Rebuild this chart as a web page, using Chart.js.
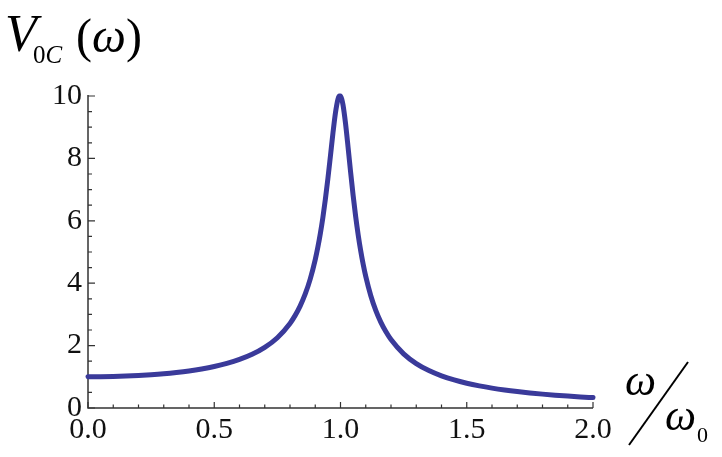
<!DOCTYPE html>
<html>
<head>
<meta charset="utf-8">
<script src="https://cdn.jsdelivr.net/npm/chart.js@4"></script>
<style>
  html, body { margin: 0; padding: 0; background: #fff; }
  #wrap { position: relative; width: 722px; height: 457px; overflow: hidden; }
  canvas { position: absolute; left: 0; top: 0; }
  .t { position: absolute; font-family: 'Liberation Serif', serif; line-height: 1; color: #000; white-space: nowrap; }
  .i { font-style: italic; }
</style>
</head>
<body>
<div id="wrap">
  <canvas id="c" width="722" height="457"></canvas>
  <span class="t i" style="font-size:52px; left:5px; top:8px;">V</span>
  <span class="t" style="font-size:25px; left:33px; top:42px;">0<span class="i">C</span></span>
  <span class="t" style="font-size:48px; left:76px; top:12px;">(<span class="i">ω</span>)</span>
  <span class="t i" style="font-size:44px; left:625px; top:359px;">ω</span>
  <span class="t i" style="font-size:44px; left:665px; top:394px;">ω</span>
  <span class="t" style="font-size:22px; left:697px; top:424px;">0</span>
  <svg style="position:absolute; left:0; top:0;" width="722" height="457">
    <line x1="629" y1="445" x2="688" y2="362" stroke="#000" stroke-width="2"/>
  </svg>
</div>
<script>
// Values (resonance curve, peak ~10 at ω/ω0 = 1)
const omegaRatio = [0, 0.05, 0.1, 0.15, 0.2, 0.25, 0.3, 0.35, 0.4, 0.45, 0.5, 0.55, 0.6, 0.65, 0.7, 0.75, 0.8, 0.82, 0.84, 0.86, 0.88, 0.9, 0.91, 0.92, 0.93, 0.94, 0.95, 0.96, 0.97, 0.98, 0.99, 0.995, 1.0, 1.005, 1.01, 1.02, 1.03, 1.04, 1.05, 1.06, 1.07, 1.08, 1.09, 1.1, 1.12, 1.14, 1.16, 1.18, 1.2, 1.25, 1.3, 1.35, 1.4, 1.45, 1.5, 1.55, 1.6, 1.65, 1.7, 1.75, 1.8, 1.85, 1.9, 1.95, 2.0];
const voltage = [1.000, 1.003, 1.010, 1.023, 1.041, 1.066, 1.098, 1.139, 1.189, 1.252, 1.330, 1.429, 1.556, 1.721, 1.943, 2.253, 2.712, 2.961, 3.266, 3.647, 4.130, 4.757, 5.141, 5.585, 6.097, 6.684, 7.346, 8.068, 8.804, 9.461, 9.903, 10.000, 10.000, 9.901, 9.711, 9.115, 8.357, 7.565, 6.815, 6.141, 5.552, 5.041, 4.600, 4.218, 3.598, 3.120, 2.743, 2.441, 2.193, 1.735, 1.424, 1.200, 1.031, 0.899, 0.794, 0.709, 0.638, 0.578, 0.527, 0.483, 0.445, 0.412, 0.382, 0.356, 0.333];
const xTicks = [0, 0.5, 1.0, 1.5, 2.0];
const yTicks = [0, 2, 4, 6, 8, 10];

const FONT = { family: "'Liberation Serif', serif", size: 30 };
const AXIS_COLOR = '#333';

const axesPlugin = {
  id: 'mathAxes',
  beforeDatasetsDraw(chart) {
    const ctx = chart.ctx;
    const xs = chart.scales.x, ys = chart.scales.y;
    const x0 = xs.getPixelForValue(0), x1 = xs.getPixelForValue(2);
    const y0 = ys.getPixelForValue(0), y1 = ys.getPixelForValue(10);
    ctx.save();
    ctx.strokeStyle = AXIS_COLOR;
    ctx.lineWidth = 1.5;
    ctx.beginPath();
    ctx.moveTo(x0, y1 - 1); ctx.lineTo(x0, y0);
    ctx.lineTo(x1, y0);
    ctx.stroke();
    ctx.lineWidth = 1.2;
    ctx.beginPath();
    for (let i = 0; i <= 20; i++) {
      const v = i / 10;
      const major = xTicks.some(t => Math.abs(t - v) < 1e-9);
      const px = xs.getPixelForValue(v);
      ctx.moveTo(px, y0);
      ctx.lineTo(px, y0 - (major ? 6 : 3.5));
    }
    for (let i = 0; i <= 20; i++) {
      const v = i / 2;
      const major = yTicks.some(t => Math.abs(t - v) < 1e-9);
      const py = ys.getPixelForValue(v);
      ctx.moveTo(x0, py);
      ctx.lineTo(x0 + (major ? 7 : 4), py);
    }
    ctx.stroke();
    ctx.restore();
  }
};

new Chart(document.getElementById('c'), {
  type: 'line',
  data: {
    datasets: [{
      data: omegaRatio.map((x, i) => ({ x: x, y: voltage[i] })),
      borderColor: 'rgb(58,58,154)',
      borderWidth: 5,
      pointRadius: 0,
      cubicInterpolationMode: 'monotone',
      borderCapStyle: 'round',
      borderJoinStyle: 'round',
      clip: false,
      fill: false
    }]
  },
  options: {
    responsive: false,
    animation: false,
    events: [],
    layout: { padding: { left: 0, right: 129, top: 96, bottom: 0 } },
    plugins: { legend: { display: false }, title: { display: false }, tooltip: { enabled: false } },
    scales: {
      x: {
        type: 'linear', min: 0, max: 2,
        afterBuildTicks: s => { s.ticks = xTicks.map(v => ({ value: v })); },
        afterFit: s => { s.height = 49; },
        grid: { display: false, drawTicks: false },
        border: { display: false },
        ticks: { font: FONT, color: '#111', padding: 4, maxRotation: 0, autoSkip: false,
                 callback: v => Number(v).toFixed(1) }
      },
      y: {
        type: 'linear', min: 0, max: 10,
        afterBuildTicks: s => { s.ticks = yTicks.map(v => ({ value: v })); },
        afterFit: s => { s.width = 88; },
        grid: { display: false, drawTicks: false },
        border: { display: false },
        ticks: { font: FONT, color: '#111', padding: 6, autoSkip: false,
                 callback: v => String(v) }
      }
    }
  },
  plugins: [axesPlugin]
});
</script>
</body>
</html>
